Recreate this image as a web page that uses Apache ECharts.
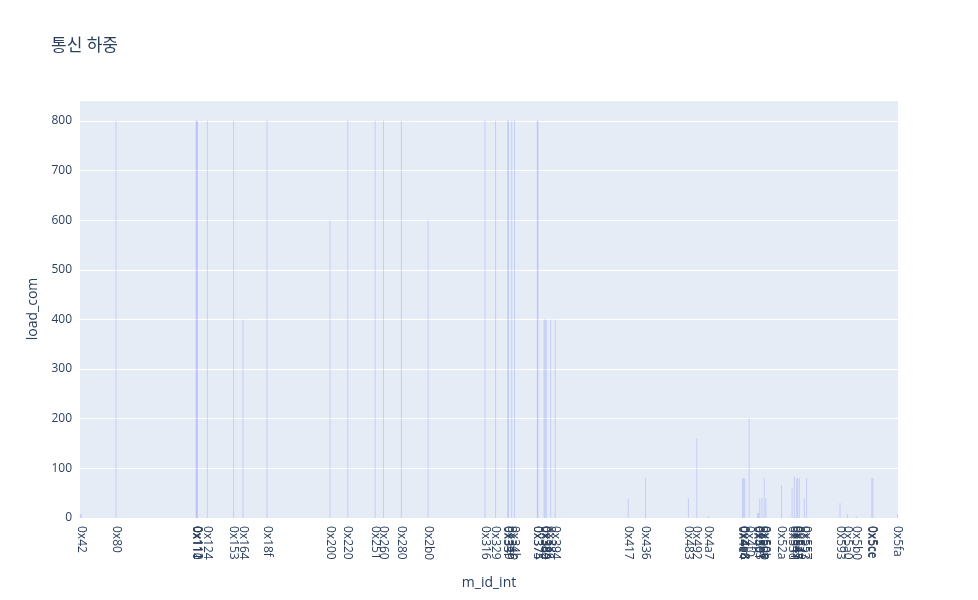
<!DOCTYPE html>
<html>
<head>
<meta charset="utf-8">
<script src="https://cdn.jsdelivr.net/npm/echarts@6/dist/echarts.min.js"></script>
<style>html,body{margin:0;padding:0;background:#fff}#c{width:978px;height:600px}</style>
</head>
<body>
<div id="c"></div>
<script>
// message ids (m_id_int) and their load_com values
const ids = [0x40, 0x42, 0x80, 0x110, 0x111, 0x112, 0x124, 0x153, 0x164, 0x18f,
  0x200, 0x220, 0x251, 0x260, 0x280, 0x2b0, 0x316, 0x329, 0x33f, 0x340, 0x346, 0x34b,
  0x374, 0x375, 0x380, 0x382, 0x384, 0x38c, 0x394,
  0x417, 0x436, 0x483, 0x492, 0x4a7, 0x4e4, 0x4e6, 0x4e8, 0x4f0, 0x4ff, 0x501, 0x503,
  0x507, 0x50b, 0x50e, 0x52a, 0x53d, 0x541, 0x545, 0x547, 0x54a, 0x553, 0x557,
  0x593, 0x5a0, 0x5b0, 0x5cc, 0x5ce, 0x5fa];
const loads = [8, 8, 800, 800, 800, 800, 800, 800, 400, 800,
  600, 800, 800, 800, 800, 600, 800, 800, 800, 800, 800, 800,
  800, 800, 400, 400, 400, 400, 400,
  40, 80, 40, 160, 4, 80, 80, 80, 200, 10, 10, 40,
  40, 80, 40, 66, 60, 84, 80, 80, 80, 40, 80,
  30, 8, 4, 80, 80, 8];
const yTicks = [0, 100, 200, 300, 400, 500, 600, 700, 800];

const chart = echarts.init(document.getElementById('c'));
const font = '"Open Sans", "Noto Sans CJK KR", sans-serif';
chart.setOption({
  animation: false,
  title: {
    text: '통신 하중', left: 46, top: 33,
    textStyle: {fontFamily: font, fontSize: 17, fontWeight: 'normal', color: '#2a3f5f'}
  },
  grid: {left: 80, right: 80, top: 100, bottom: 82, show: true, backgroundColor: '#E5ECF6', borderWidth: 0},
  xAxis: {
    type: 'value', min: 63.5, max: 1531,
    name: 'm_id_int', nameLocation: 'middle', nameGap: 58,
    nameTextStyle: {fontFamily: font, fontSize: 14, color: '#2a3f5f'},
    axisLine: {show: false}, axisTick: {show: false}, splitLine: {show: false},
    axisLabel: {
      customValues: ids, rotate: -90, margin: 8,
      fontFamily: font, fontSize: 12, color: '#2a3f5f',
      formatter: v => '0x' + Math.round(v).toString(16)
    }
  },
  yAxis: {
    type: 'value', min: 0, max: 842,
    name: 'load_com', nameLocation: 'middle', nameGap: 40,
    nameTextStyle: {fontFamily: font, fontSize: 14, color: '#2a3f5f'},
    axisLine: {show: false}, axisTick: {show: false},
    splitLine: {lineStyle: {color: '#ffffff', width: 1}},
    axisLabel: {customValues: yTicks, fontFamily: font, fontSize: 12, color: '#2a3f5f', margin: 8},
    splitNumber: 8
  },
  series: [{
    type: 'bar', barWidth: 1,
    itemStyle: {color: 'rgba(99,110,250,0.24)'},
    data: ids.map((id, i) => [id, loads[i]])
  }]
});
</script>
</body>
</html>
